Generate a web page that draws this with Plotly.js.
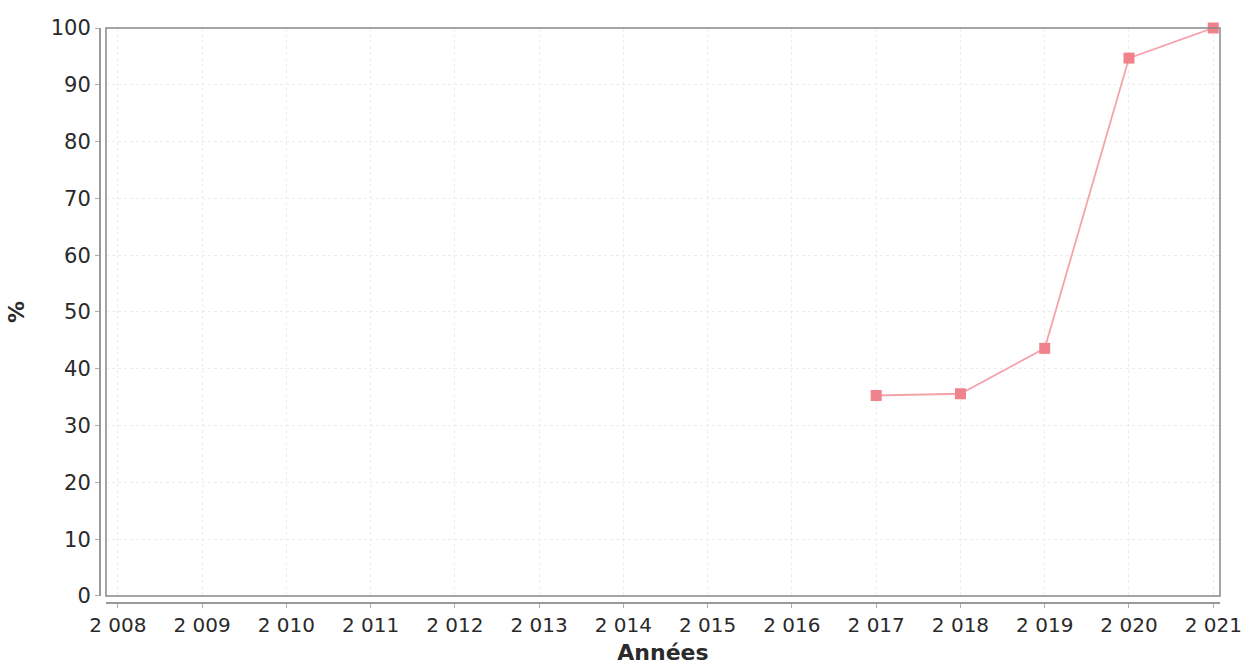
<!DOCTYPE html>
<html>
<head>
<meta charset="utf-8">
<script src="https://cdn.plot.ly/plotly-3.0.1.min.js"></script>
<style>html,body{margin:0;padding:0;background:#fff;}#chart{width:1241px;height:665px;}</style>
</head>
<body>
<div id="chart"></div>
<script>
const years = [2017, 2018, 2019, 2020, 2021];
const values = [35.3, 35.6, 43.6, 94.7, 100];
const tickYears = [2008, 2009, 2010, 2011, 2012, 2013, 2014, 2015, 2016, 2017, 2018, 2019, 2020, 2021];
const tickLabels = ["2 008", "2 009", "2 010", "2 011", "2 012", "2 013", "2 014", "2 015", "2 016", "2 017", "2 018", "2 019", "2 020", "2 021"];
const yTicks = [0, 10, 20, 30, 40, 50, 60, 70, 80, 90, 100];

const font = {family: "DejaVu Sans, sans-serif", size: 20, color: "#2a2a2a"};
const yFont = {family: "DejaVu Sans, sans-serif", size: 21, color: "#2a2a2a"};
const titleFont = {family: "DejaVu Sans, sans-serif", size: 22, color: "#2a2a2a", weight: "bold"};

const trace = {
  x: years, y: values, type: "scatter", mode: "lines+markers",
  line: {color: "#f5a3ab", width: 1.8},
  marker: {symbol: "square", size: 11, color: "#f0828c"},
  cliponaxis: false, showlegend: false, hoverinfo: "x+y"
};

const layout = {
  width: 1241, height: 665,
  margin: {l: 99, r: 21, t: 28, b: 63},
  paper_bgcolor: "#fff", plot_bgcolor: "#fff",
  font: font,
  xaxis: {
    domain: [0.0062, 1], anchor: "free", position: 0,
    range: [2007.86, 2021.08],
    tickvals: tickYears, ticktext: tickLabels,
    ticklabeloverflow: "allow",
    showline: true, linecolor: "#999", linewidth: 1.5,
    ticks: "outside", ticklen: 4, tickcolor: "#aaa",
    showgrid: true, gridcolor: "#ececec", griddash: "dot", gridwidth: 1,
    zeroline: false, tickfont: font,
    title: {text: "Années", font: titleFont, standoff: 14}
  },
  yaxis: {
    domain: [0.0105, 1], anchor: "free", position: 0,
    range: [0, 100],
    tickvals: yTicks,
    showline: true, linecolor: "#999", linewidth: 1.5,
    ticks: "outside", ticklen: 4, tickcolor: "#aaa",
    showgrid: true, gridcolor: "#ececec", griddash: "dot", gridwidth: 1,
    zeroline: false, tickfont: yFont,
    title: {text: "%", font: titleFont, standoff: 18}
  },
  shapes: [{
    type: "rect", xref: "x domain", yref: "y domain", x0: 0, x1: 1, y0: 0, y1: 1,
    line: {color: "#888", width: 1.5}, fillcolor: "rgba(0,0,0,0)", layer: "above"
  }]
};

Plotly.newPlot("chart", [trace], layout, {displayModeBar: false, staticPlot: true});
</script>
</body>
</html>
